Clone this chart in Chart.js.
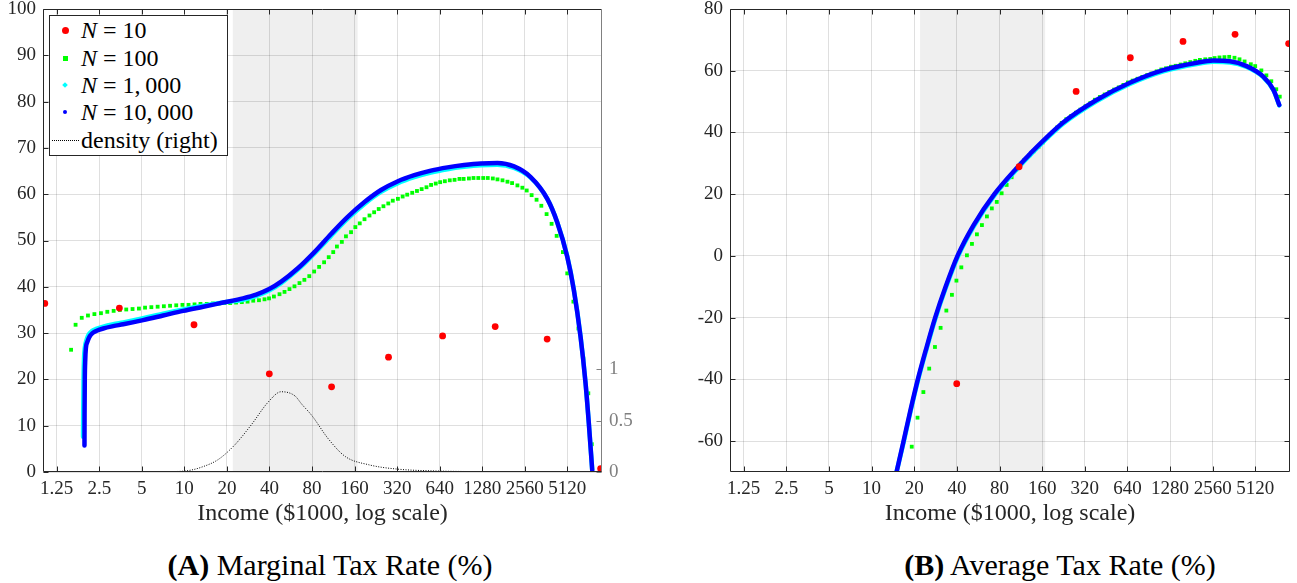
<!DOCTYPE html>
<html>
<head>
<meta charset="utf-8">
<title>Marginal and average tax rates</title>
<script src="https://cdn.jsdelivr.net/npm/chart.js@4.4.1/dist/chart.umd.min.js"></script>
<style>
  body { margin: 0; background: #fff; }
  #fig { position: relative; width: 1297px; height: 583px; font-family: "Liberation Serif", "DejaVu Serif", serif; color: #000; overflow: hidden; }
  #mtr { position: absolute; left: 0; top: 0; }
  #atr { position: absolute; left: 640px; top: 0; }
  .legend { position: absolute; left: 49px; top: 15px; width: 177px; height: 139px; border: 1px solid #262626; background: #fff; font-size: 24px; color: #000; }
  .legend .row { position: absolute; left: 31px; line-height: 24px; height: 24px; white-space: nowrap; }
  .legend .mk { position: absolute; }
  .caption { position: absolute; top: 547px; font-size: 30px; line-height: 36px; white-space: nowrap; transform: translateX(-50%); }
</style>
</head>
<body>
<div id="fig">
  <canvas id="mtr" width="640" height="540"></canvas>
  <canvas id="atr" width="657" height="540"></canvas>

  <div class="legend">
    <span class="mk" style="left:12px;top:11px;width:7px;height:7px;border-radius:50%;background:#ff0000"></span>
    <div class="row" style="top:2px"><i>N</i> = 10</div>
    <span class="mk" style="left:13px;top:40px;width:5px;height:5px;background:#00ff00"></span>
    <div class="row" style="top:30px"><i>N</i> = 100</div>
    <span class="mk" style="left:13px;top:67px;width:4px;height:4px;background:#00ffff;transform:rotate(45deg)"></span>
    <div class="row" style="top:57px"><i>N</i> = 1,&thinsp;000</div>
    <span class="mk" style="left:13px;top:94px;width:4px;height:4px;border-radius:50%;background:#0000ff"></span>
    <div class="row" style="top:84px"><i>N</i> = 10,&thinsp;000</div>
    <span class="mk" style="left:2px;top:124px;width:27px;height:0;border-top:1px dotted #000"></span>
    <div class="row" style="top:112px">density (right)</div>
  </div>

  <div class="caption" style="left:330px"><b>(A)</b> Marginal Tax Rate (%)</div>
  <div class="caption" style="left:1060px"><b>(B)</b> Average Tax Rate (%)</div>
</div>

<script>
// Income axis in $1000, same on both panels
const incomeTicks = [1.25, 2.5, 5, 10, 20, 40, 80, 160, 320, 640, 1280, 2560, 5120];
const incomeRange = [1, 9000];
const shadedBand = [22, 168];

const marginalTicks = [0, 10, 20, 30, 40, 50, 60, 70, 80, 90, 100];
const averageTicks = [-60, -40, -20, 0, 20, 40, 60, 80];
const densityTicks = [0, 0.5, 1];

// N = 10
const n10Income = [1.03, 3.47, 11.7, 39.9, 110, 278, 671, 1580, 3683, 8800];
const n10Marginal = [36.4, 35.4, 31.8, 21.2, 18.4, 24.8, 29.4, 31.4, 28.7, 0.7];
const n10Average = [null, null, null, -41.4, 28.9, 53.3, 64.2, 69.5, 71.8, 68.8];

// N = 100
const n100Income = [
  1.58, 1.70, 1.88, 2.08, 2.31, 2.57, 2.85, 3.16, 3.50, 3.88,
  4.30, 4.77, 5.27, 5.84, 6.47, 7.16, 7.92, 8.76, 9.69, 10.7,
  11.8, 13.0, 14.4, 15.9, 17.5, 19.2, 21.1, 23.2, 25.5, 28.0,
  30.7, 33.7, 36.9, 39.7, 43.0, 47.1, 51.1, 55.4, 60.1, 65.2,
  70.6, 76.5, 82.8, 89.8, 97.4, 105, 113, 120, 130, 139,
  151, 162, 174, 188, 204, 220, 237, 256, 277, 298,
  324, 350, 377, 409, 442, 477, 516, 556, 600, 645,
  696, 754, 815, 883, 945, 1030, 1110, 1200, 1300, 1400,
  1520, 1640, 1780, 1930, 2080, 2270, 2460, 2640, 2860, 3100,
  3350, 3650, 3960, 4300, 4760, 5110, 5650, 6130, 6640, 7200,
  7620
];
const n100Marginal = [
  26.4, 31.8, 33.3, 33.8, 34.1, 34.3, 34.6, 34.8, 35.0, 35.1,
  35.2, 35.3, 35.5, 35.6, 35.7, 35.8, 35.9, 36.0, 36.1, 36.1,
  36.2, 36.3, 36.3, 36.4, 36.4, 36.5, 36.5, 36.6, 36.7, 36.8,
  37.0, 37.1, 37.3, 37.5, 37.9, 38.4, 38.9, 39.5, 40.1, 40.8,
  41.5, 42.3, 43.3, 44.3, 45.3, 46.4, 47.5, 48.7, 49.7, 50.9,
  51.8, 52.9, 53.7, 54.6, 55.4, 56.1, 56.8, 57.4, 58.0, 58.6,
  59.0, 59.5, 59.9, 60.3, 60.7, 61.1, 61.5, 62.0, 62.3, 62.6,
  62.8, 63.0, 63.1, 63.3, 63.3, 63.4, 63.5, 63.5, 63.5, 63.5,
  63.4, 63.2, 63.0, 62.7, 62.4, 61.9, 61.4, 60.8, 59.8, 58.8,
  57.5, 55.7, 53.6, 51.0, 47.5, 42.9, 36.8, 31.0, 24.5, 17.0,
  6.0
];
const n100Average = [
  null, null, null, null, null, null, null, null, null, null,
  null, null, null, null, null, null, null, null, null, null,
  null, null, null, null, null, -61.8, -52.4, -44.1, -36.5, -29.5,
  -23.3, -17.7, -12.6, -8.0, -3.7, 0.2, 3.9, 7.0, 10.0, 12.8,
  15.4, 17.5, 20.3, 23.0, 25.5, 28.0, 29.9, 31.1, 32.6, 33.9,
  35.4, 36.8, 38.3, 39.9, 41.6, 43.1, 44.3, 45.3, 46.4, 47.4,
  48.5, 49.5, 50.6, 51.5, 52.3, 53.1, 53.9, 54.6, 55.4, 56.2,
  56.8, 57.4, 58.0, 58.6, 59.1, 59.8, 60.4, 60.8, 61.3, 61.6,
  62.0, 62.4, 62.8, 63.2, 63.5, 63.7, 63.8, 64.1, 64.3, 64.4,
  64.5, 64.2, 63.7, 63.0, 62.1, 61.5, 60.1, 58.5, 56.6, 54.0,
  51.6
];

// N = 1,000
const n1000IncomeMarginal = [
  1.92, 1.925, 1.935, 1.95, 1.98, 2.03, 2.10, 2.21, 2.38, 2.67,
  3.14, 3.70, 5.11, 7.08, 9.80, 13.6, 18.8, 26.0, 32.2, 39.8,
  48.4, 63.5, 83.2, 109, 143, 188, 246, 324, 423, 554,
  727, 952, 1250, 1638, 2147, 2816, 3693, 4345, 5110, 5690,
  6345, 6883, 7262, 7674
];
const n1000Marginal = [
  7.6, 12.7, 19.9, 24.4, 27.0, 28.5, 29.6, 30.4, 30.9, 31.4,
  31.9, 32.3, 33.2, 34.2, 35.1, 35.9, 36.6, 37.2, 38.0, 39.2,
  40.8, 43.7, 47.2, 51.0, 54.7, 57.9, 60.5, 62.4, 63.7, 64.7,
  65.4, 65.9, 66.25, 66.35, 65.7, 63.6, 59.0, 53.9, 46.6, 39.4,
  29.3, 19.3, 10.6, 0.5
];
const n1000IncomeAverage = [
  15.0, 16.8, 18.8, 21.2, 24.3, 28.1, 33.3, 40.4, 52.5, 73.6,
  108, 131, 225, 387, 666, 1147, 1977, 2585, 3391, 4450,
  5830, 6880, 7560
];
const n1000Average = [
  -70, -60.5, -50.5, -40.5, -30.5, -20.5, -10.5, -0.5, 9.5, 19.6,
  28.5, 32.6, 42.8, 50.1, 55.7, 59.8, 62.2, 62.9, 62.7, 61.2,
  57.9, 53.7, 48.8
];

// N = 10,000
const n10000IncomeMarginal = [
  1.965, 1.968, 1.975, 1.99, 2.01, 2.06, 2.13, 2.24, 2.40, 2.67,
  3.14, 3.70, 5.11, 7.08, 9.80, 13.6, 18.8, 26.0, 32.2, 39.8,
  48.4, 63.5, 83.2, 109, 143, 188, 246, 324, 423, 554,
  727, 952, 1250, 1638, 2147, 2816, 3693, 4345, 5110, 5690,
  6345, 6883, 7262, 7674
];
const n10000Marginal = [
  5.7, 12.7, 19.9, 24.2, 26.7, 28.1, 29.2, 30.0, 30.5, 31.0,
  31.5, 31.9, 32.8, 33.8, 34.8, 35.7, 36.6, 37.5, 38.3, 39.5,
  41.1, 44.0, 47.5, 51.4, 55.1, 58.3, 60.9, 62.8, 64.1, 65.1,
  65.8, 66.3, 66.65, 66.75, 66.0, 63.7, 59.0, 53.9, 46.5, 39.3,
  29.2, 19.2, 10.5, 0.4
];
const n10000IncomeAverage = [
  15.0, 16.8, 18.8, 21.2, 24.3, 28.1, 33.3, 40.4, 52.5, 73.6,
  108, 131, 225, 387, 666, 1147, 1977, 2585, 3391, 4450,
  5830, 6880, 7560
];
const n10000Average = [
  -70, -60, -50, -40, -30, -20, -10, 0, 10, 20,
  28.9, 33.0, 43.2, 50.5, 56.1, 60.2, 62.6, 63.3, 63.1, 61.5,
  58.1, 53.8, 48.9
];

// income density, right axis of panel A
const densityIncome = [1.97, 5.0, 8.5, 10.8, 13.1, 17.3, 22.6, 29.8, 39.2, 48.4, 60.5, 67.6, 79.6, 104.6, 137.7, 202, 311, 600, 1810, 5120, 7700];
const densityValue = [0, 0, 0.004, 0.015, 0.045, 0.12, 0.26, 0.46, 0.68, 0.78, 0.74, 0.66, 0.55, 0.32, 0.15, 0.07, 0.03, 0.01, 0.003, 0, 0];

const axisColor = "#262626";
const gridColor = "rgba(38,38,38,0.15)";
const serif = "'Liberation Serif', 'DejaVu Serif', serif";
const tickFont = { family: serif, size: 19 };
const titleFont = { family: serif, size: 24 };

function points(xs, ys) {
  const out = [];
  xs.forEach((x, i) => {
    if (ys[i] !== null) out.push({ x: x, y: ys[i] });
  });
  return out;
}

function fixedTicks(values) {
  return (scale) => { scale.ticks = values.map((v) => ({ value: v })); };
}

// shaded band under the grid, inward tick marks and the axes box on top
const framePlugin = {
  id: "frame",
  beforeDraw(chart) {
    const { ctx, chartArea: a, scales } = chart;
    const x0 = scales.x.getPixelForValue(shadedBand[0]);
    const x1 = scales.x.getPixelForValue(shadedBand[1]);
    ctx.save();
    ctx.fillStyle = "#efefef";
    ctx.fillRect(x0, a.top, x1 - x0, a.bottom - a.top);
    ctx.restore();
  },
  afterDraw(chart, args, opts) {
    const { ctx, chartArea: a, scales } = chart;
    const len = 5;
    const left = Math.round(a.left) + 0.5;
    const right = Math.round(a.right) - 0.5;
    const top = Math.round(a.top) + 0.5;
    const bottom = Math.round(a.bottom) - 0.5;
    ctx.save();
    ctx.lineWidth = 1;
    ctx.strokeStyle = axisColor;
    ctx.beginPath();
    scales.x.ticks.forEach((t) => {
      const px = Math.round(scales.x.getPixelForValue(t.value)) + 0.5;
      ctx.moveTo(px, bottom); ctx.lineTo(px, bottom - len);
      ctx.moveTo(px, top); ctx.lineTo(px, top + len);
    });
    scales.y.ticks.forEach((t) => {
      const py = Math.round(scales.y.getPixelForValue(t.value)) + 0.5;
      ctx.moveTo(left, py); ctx.lineTo(left + len, py);
    });
    ctx.moveTo(left, bottom); ctx.lineTo(left, top);
    ctx.lineTo(right, top);
    ctx.moveTo(left, bottom); ctx.lineTo(right, bottom);
    ctx.stroke();

    const rs = scales[opts.rightScale];
    ctx.strokeStyle = opts.rightColor;
    ctx.beginPath();
    rs.ticks.forEach((t) => {
      const py = Math.round(rs.getPixelForValue(t.value)) + 0.5;
      ctx.moveTo(right, py); ctx.lineTo(right - len, py);
    });
    ctx.moveTo(right, top); ctx.lineTo(right, bottom);
    ctx.stroke();
    ctx.restore();
  }
};

function incomeAxis() {
  return {
    type: "logarithmic",
    min: incomeRange[0],
    max: incomeRange[1],
    afterBuildTicks: fixedTicks(incomeTicks),
    afterFit: (s) => { s.height = 68; s.paddingLeft = 0; s.paddingRight = 0; },
    ticks: { autoSkip: false, maxRotation: 0, minRotation: 0, padding: 6, color: axisColor, font: tickFont, callback: (v) => String(v) },
    grid: { color: gridColor, drawTicks: false },
    border: { display: false },
    title: { display: true, text: "Income ($1000, log scale)", color: axisColor, font: titleFont, padding: { top: 0, bottom: 12 } }
  };
}

function valueAxis(pos, min, max, values, width, color, showGrid) {
  return {
    position: pos,
    min: min,
    max: max,
    afterBuildTicks: fixedTicks(values),
    afterFit: (s) => { s.width = width; s.paddingTop = 0; s.paddingBottom = 0; },
    ticks: { padding: 7, color: color, font: tickFont, callback: (v) => String(v) },
    grid: { display: showGrid, color: gridColor, drawTicks: false },
    border: { display: false }
  };
}

const dotStyle = (color, radius, order) => ({
  showLine: false,
  pointRadius: radius,
  pointHoverRadius: radius,
  pointBackgroundColor: color,
  pointBorderWidth: 0,
  order: order
});

const curveStyle = (color, width, order) => ({
  showLine: true,
  borderColor: color,
  borderWidth: width,
  pointRadius: 0,
  pointHoverRadius: 0,
  cubicInterpolationMode: "monotone",
  borderCapStyle: "round",
  borderJoinStyle: "round",
  order: order
});

new Chart(document.getElementById("mtr"), {
  type: "scatter",
  data: {
    datasets: [
      { label: "N = 10", data: points(n10Income, n10Marginal), ...dotStyle("#ff0000", 3.4, 0) },
      { label: "N = 100", data: points(n100Income, n100Marginal), ...dotStyle("#00ff00", 2.7, 3), pointStyle: "rect" },
      { label: "N = 1,000", data: points(n1000IncomeMarginal, n1000Marginal), ...curveStyle("#00ffff", 4.5, 2) },
      { label: "N = 10,000", data: points(n10000IncomeMarginal, n10000Marginal), ...curveStyle("#0000ff", 4.5, 1) },
      {
        label: "density (right)",
        data: points(densityIncome, densityValue),
        yAxisID: "y2",
        showLine: true,
        borderColor: "#000",
        borderWidth: 1,
        borderDash: [1, 1.5],
        pointRadius: 0,
        cubicInterpolationMode: "monotone",
        order: 4
      }
    ]
  },
  options: {
    responsive: false,
    animation: false,
    events: [],
    layout: { padding: { top: 9, left: 0, right: 0, bottom: 0 } },
    scales: {
      x: incomeAxis(),
      y: valueAxis("left", 0, 100, marginalTicks, 43, axisColor, true),
      y2: valueAxis("right", 0, 4.5, densityTicks, 38, "#808080", false)
    },
    plugins: {
      legend: { display: false },
      tooltip: { enabled: false },
      frame: { rightScale: "y2", rightColor: "#808080" }
    }
  },
  plugins: [framePlugin]
});

new Chart(document.getElementById("atr"), {
  type: "scatter",
  data: {
    datasets: [
      { label: "N = 10", data: points(n10Income, n10Average), ...dotStyle("#ff0000", 3.4, 0) },
      { label: "N = 100", data: points(n100Income, n100Average), ...dotStyle("#00ff00", 2.7, 3), pointStyle: "rect" },
      { label: "N = 1,000", data: points(n1000IncomeAverage, n1000Average), ...curveStyle("#00ffff", 4.5, 2) },
      { label: "N = 10,000", data: points(n10000IncomeAverage, n10000Average), ...curveStyle("#0000ff", 4.5, 1) }
    ]
  },
  options: {
    responsive: false,
    animation: false,
    events: [],
    layout: { padding: { top: 9, left: 0, right: 7, bottom: 0 } },
    scales: {
      x: incomeAxis(),
      y: valueAxis("left", -70, 80, averageTicks, 90, axisColor, true)
    },
    plugins: {
      legend: { display: false },
      tooltip: { enabled: false },
      frame: { rightScale: "y", rightColor: axisColor }
    }
  },
  plugins: [framePlugin]
});
</script>
</body>
</html>
